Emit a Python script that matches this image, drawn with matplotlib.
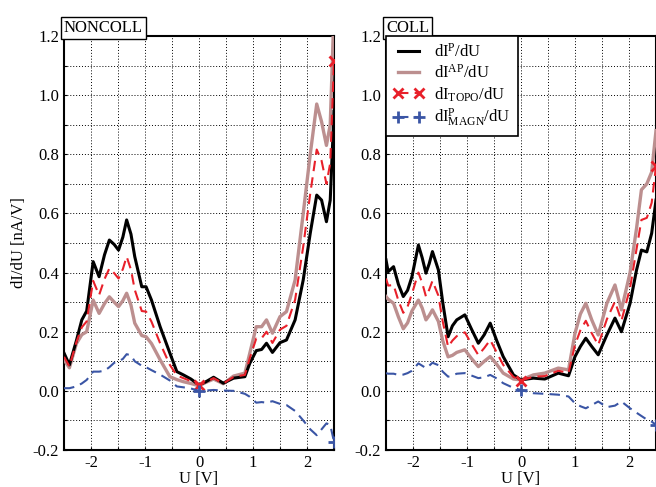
import numpy as np
import matplotlib
matplotlib.use('Agg')
import matplotlib.pyplot as plt
from matplotlib.ticker import MultipleLocator, FormatStrFormatter

plt.rcParams['font.family'] = ['Liberation Serif', 'DejaVu Serif']
plt.rcParams['mathtext.fontset'] = 'custom'
plt.rcParams['mathtext.rm'] = 'Liberation Serif'
plt.rcParams['mathtext.it'] = 'Liberation Serif:italic'
plt.rcParams['axes.unicode_minus'] = False
plt.rcParams['font.size'] = 11

# ---- NONCOLL panel data ----
u_nc = [-2.5, -2.4, -2.27, -2.17, -2.08, -1.96, -1.85, -1.75, -1.66, -1.57, -1.49,
        -1.41, -1.34, -1.26, -1.19, -1.06, -0.98, -0.88, -0.72, -0.54, -0.41, -0.29,
        -0.15, 0.0, 0.12, 0.27, 0.45, 0.64, 0.85, 0.94, 1.06, 1.16, 1.25, 1.36, 1.5,
        1.62, 1.78, 1.93, 2.06, 2.18, 2.27, 2.36, 2.43, 2.5]
p_nc = [0.128, 0.088, 0.17, 0.24, 0.27, 0.437, 0.386, 0.46, 0.51, 0.495, 0.476,
        0.52, 0.578, 0.53, 0.454, 0.352, 0.352, 0.307, 0.217, 0.128, 0.065, 0.054,
        0.04, 0.02, 0.03, 0.046, 0.026, 0.043, 0.048, 0.093, 0.136, 0.14, 0.161, 0.13, 0.163,
        0.172, 0.24, 0.375, 0.533, 0.662, 0.645, 0.572, 0.645, 0.945]
ap_nc = [0.105, 0.078, 0.16, 0.19, 0.2, 0.307, 0.262, 0.295, 0.318, 0.3, 0.285,
         0.305, 0.33, 0.29, 0.229, 0.187, 0.183, 0.16, 0.105, 0.048, 0.038, 0.031,
         0.025, 0.017, 0.028, 0.04, 0.024, 0.05, 0.06, 0.127, 0.217, 0.217, 0.24, 0.195, 0.251,
         0.268, 0.375, 0.6, 0.8, 0.97, 0.91, 0.83, 0.9, 1.285]
topo_nc = [0.115, 0.083, 0.165, 0.215, 0.235, 0.372, 0.324, 0.378, 0.414, 0.398, 0.38,
           0.412, 0.454, 0.41, 0.342, 0.27, 0.268, 0.234, 0.161, 0.088, 0.052, 0.043,
           0.033, 0.019, 0.029, 0.043, 0.025, 0.047, 0.054, 0.11, 0.177, 0.178, 0.2, 0.162, 0.207,
           0.22, 0.308, 0.488, 0.667, 0.816, 0.778, 0.70, 0.77, 1.115]
magn_nc = [0.009, 0.009, 0.015, 0.025, 0.037, 0.065, 0.065, 0.068, 0.08, 0.095, 0.1,
           0.108, 0.124, 0.12, 0.1, 0.085, 0.08, 0.07, 0.055, 0.035, 0.015, 0.012,
           0.008, 0.0, 0.001, 0.003, 0.001, 0.0, -0.01, -0.02, -0.04, -0.038, -0.04, -0.035, -0.044,
           -0.048, -0.068, -0.1, -0.13, -0.15, -0.13, -0.11, -0.115, -0.172]

# ---- COLL panel data ----
u_c = [-2.5, -2.46, -2.36, -2.27, -2.18, -2.1, -2.02, -1.9, -1.83, -1.76, -1.7, -1.64,
       -1.53, -1.45, -1.35, -1.27, -1.19, -1.04, -0.92, -0.79, -0.68, -0.57, -0.45, -0.33,
       -0.14, 0.0, 0.23, 0.44, 0.69, 0.88, 1.0, 1.1, 1.2, 1.31, 1.43, 1.59, 1.74, 1.86,
       2.02, 2.14, 2.23, 2.33, 2.42, 2.5]
p_c = [0.443, 0.403, 0.42, 0.36, 0.319, 0.34, 0.386, 0.493, 0.45, 0.398, 0.43, 0.471,
       0.409, 0.3, 0.183, 0.22, 0.24, 0.257, 0.21, 0.161, 0.19, 0.229, 0.17, 0.116,
       0.054, 0.037, 0.043, 0.04, 0.06, 0.051, 0.116, 0.15, 0.178, 0.15, 0.122, 0.189, 0.246, 0.2,
       0.296, 0.409, 0.476, 0.47, 0.533, 0.645]
ap_c = [0.319, 0.31, 0.296, 0.25, 0.21, 0.23, 0.27, 0.307, 0.28, 0.24, 0.255, 0.274,
        0.235, 0.17, 0.115, 0.12, 0.13, 0.139, 0.11, 0.082, 0.1, 0.116, 0.09, 0.06,
        0.04, 0.037, 0.054, 0.06, 0.077, 0.071, 0.195, 0.26, 0.296, 0.24, 0.189, 0.296, 0.358, 0.274,
        0.4, 0.55, 0.68, 0.7, 0.74, 0.88]
topo_c = [0.38, 0.356, 0.358, 0.305, 0.264, 0.285, 0.328, 0.4, 0.365, 0.319, 0.342, 0.372,
          0.322, 0.235, 0.149, 0.17, 0.185, 0.198, 0.16, 0.121, 0.145, 0.172, 0.13, 0.088,
          0.047, 0.035, 0.048, 0.05, 0.068, 0.061, 0.155, 0.205, 0.237, 0.195, 0.155, 0.242, 0.302, 0.237,
          0.348, 0.48, 0.578, 0.585, 0.636, 0.76]
magn_c = [0.06, 0.058, 0.058, 0.054, 0.055, 0.06, 0.068, 0.093, 0.085, 0.077, 0.085, 0.095,
          0.087, 0.065, 0.048, 0.052, 0.058, 0.06, 0.052, 0.043, 0.046, 0.054, 0.042, 0.026,
          0.01, 0.003, -0.008, -0.01, -0.013, -0.019, -0.042, -0.052, -0.059, -0.048, -0.036, -0.055, -0.05, -0.036,
          -0.059, -0.074, -0.085, -0.097, -0.104, -0.115]

panels = [('NONCOLL', u_nc, p_nc, ap_nc, topo_nc, magn_nc),
          ('COLL', u_c, p_c, ap_c, topo_c, magn_c)]

fig = plt.figure(figsize=(6.56, 4.87), dpi=100)
ax_pos = [[64/656, 37/487, 270/656, 414/487], [386/656, 37/487, 270/656, 414/487]]

for i, (name, u, p, ap, topo, magn) in enumerate(panels):
    ax = fig.add_axes(ax_pos[i])
    mk = [u.index(0.0), len(u) - 1]
    ax.plot(u, p, color='black', lw=2.2, label=r'dI$^\mathrm{P}$/dU', zorder=4)
    ax.plot(u, ap, color='#bc8f8f', lw=2.4, label=r'dI$^\mathrm{AP}$/dU', zorder=3)
    ax.plot(u, topo, color='#e8202a', lw=1.5, ls=(0, (5, 3)), marker='x', ms=7, mew=2,
            markevery=mk, label=r'dI$_\mathrm{TOPO}$/dU', zorder=5)
    ax.plot(u, magn, color='#3a55a5', lw=1.5, ls=(0, (5, 3)), marker='+', ms=9, mew=2,
            markevery=mk, label=r'dI$^\mathrm{P}_\mathrm{MAGN}$/dU', zorder=5)

    ax.set_xlim(-2.5, 2.5)
    ax.set_ylim(-0.2, 1.2)
    ax.xaxis.set_major_locator(MultipleLocator(1))
    ax.xaxis.set_minor_locator(MultipleLocator(0.5))
    ax.yaxis.set_major_locator(MultipleLocator(0.2))
    ax.yaxis.set_minor_locator(MultipleLocator(0.1))
    ax.yaxis.set_major_formatter(FormatStrFormatter('%.1f'))
    ax.tick_params(which='both', direction='in', length=2, width=0.8, labelsize=12)
    ax.grid(which='both', ls=(0, (1, 2)), color='black', lw=0.7)
    for s in ax.spines.values():
        s.set_linewidth(1.5)
    ax.set_xlabel('U [V]', fontsize=12, labelpad=0)
    if i == 0:
        ax.set_ylabel('dI/dU [nA/V]', fontsize=12)
    ax.text(0, 1.0, name, transform=ax.transAxes, ha='left', va='bottom', fontsize=12,
            bbox=dict(boxstyle='square,pad=0.2', fc='white', ec='black', lw=1))
    if i == 1:
        leg = ax.legend(loc='upper left', borderaxespad=0, fancybox=False, framealpha=1,
                        edgecolor='black', fontsize=12, handlelength=1.9, numpoints=2,
                        labelspacing=0.2, handletextpad=0.6)
        leg.get_frame().set_linewidth(1.2)

plt.savefig('out.png', dpi=100)
